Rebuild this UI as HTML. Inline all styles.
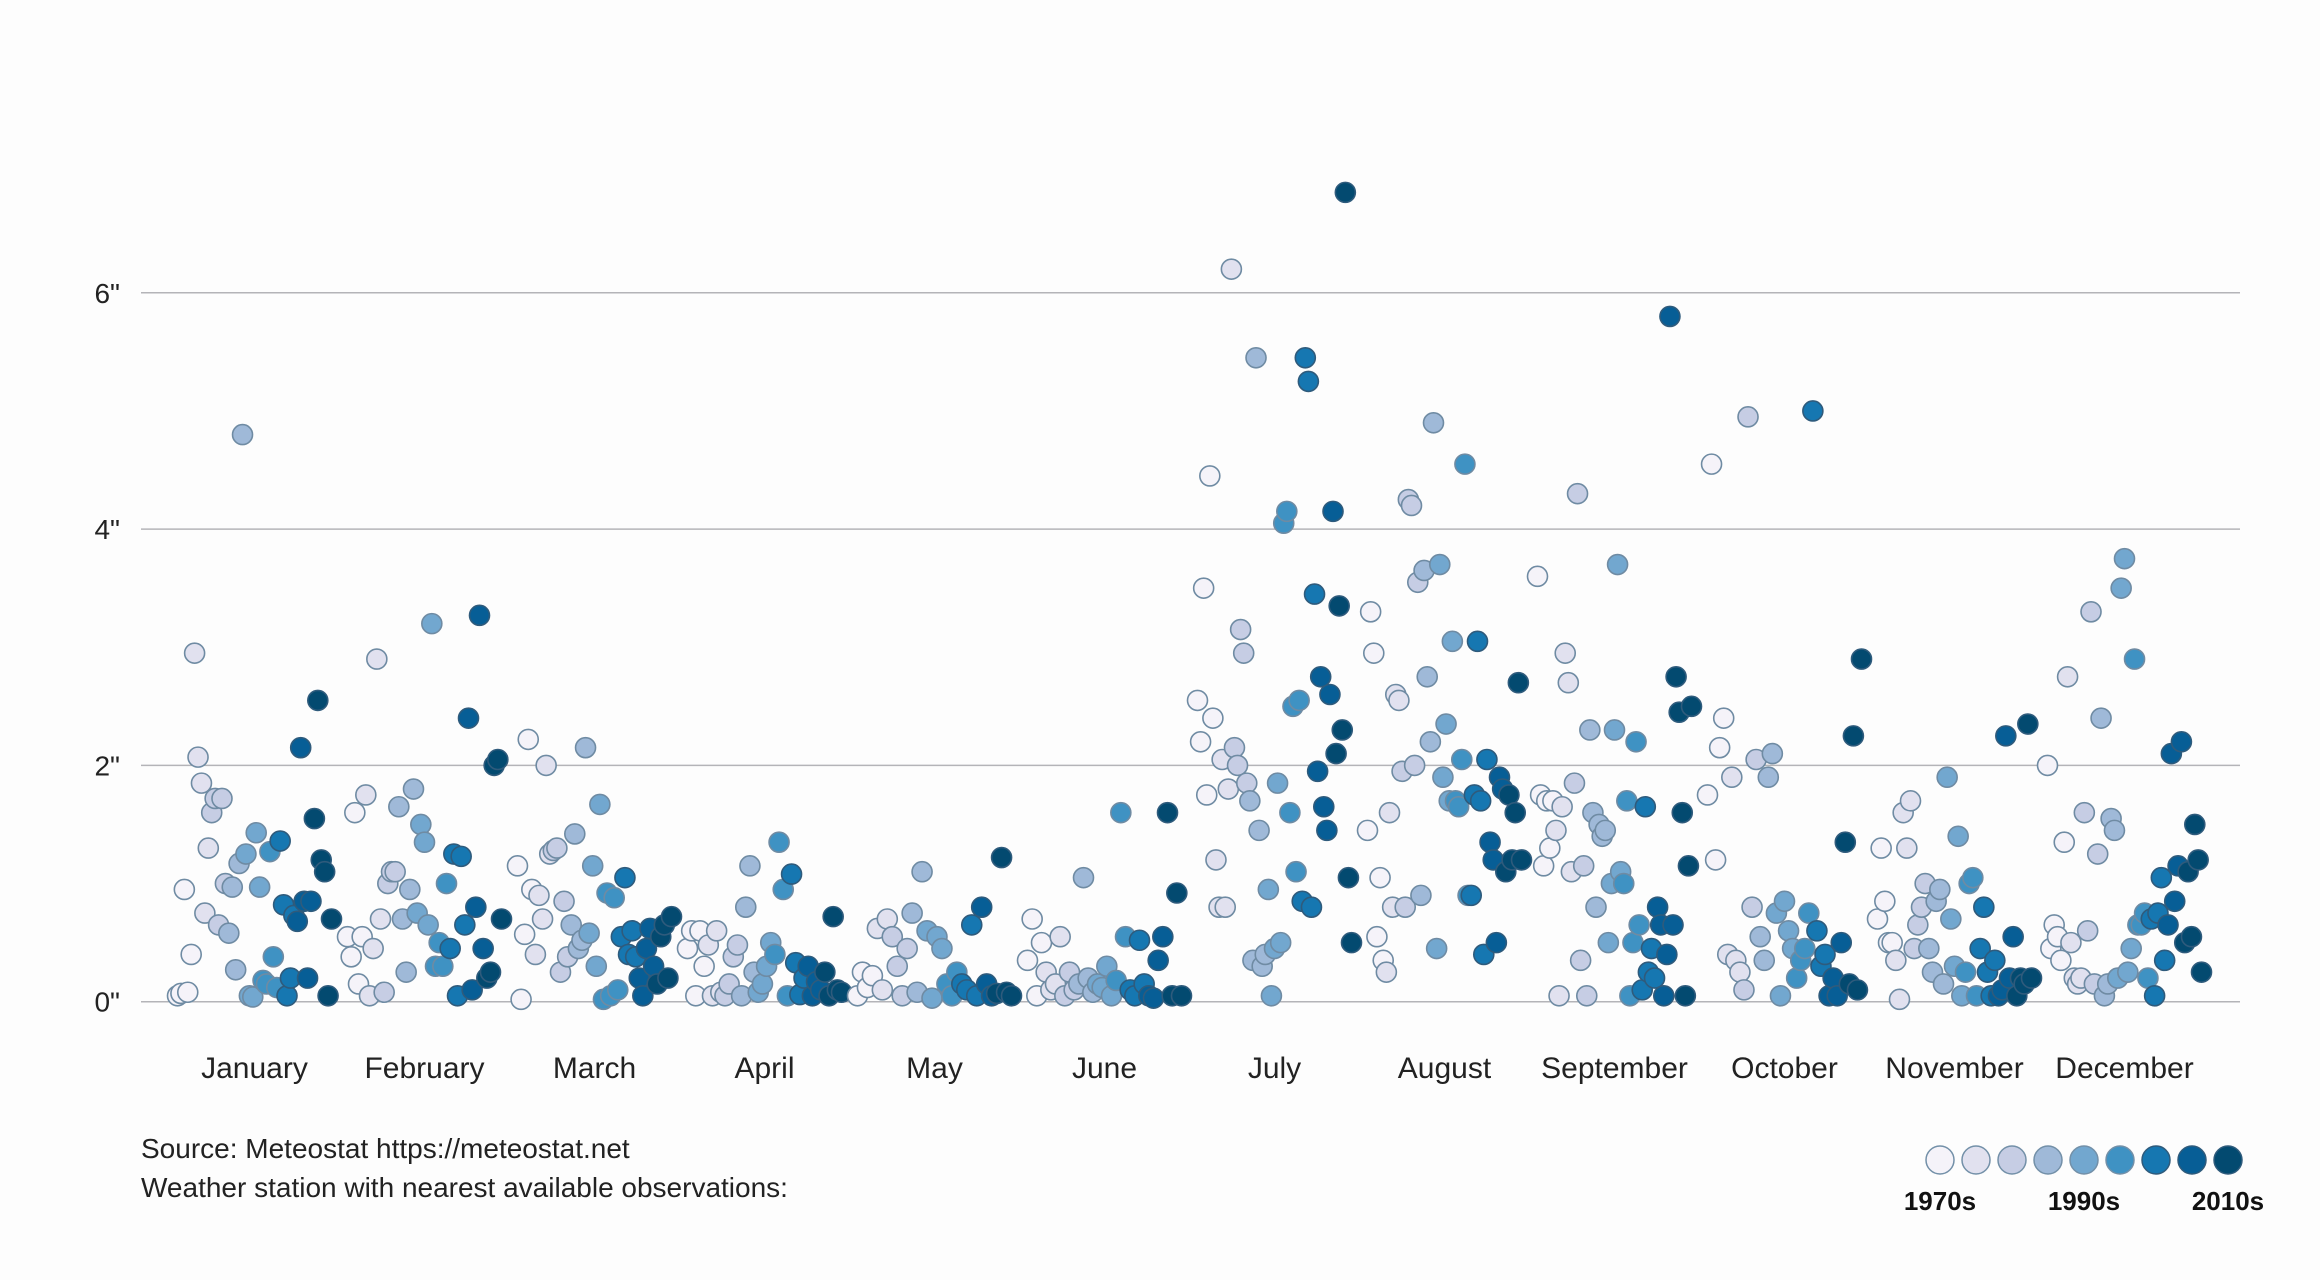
<!DOCTYPE html>
<html><head><meta charset="utf-8"><style>
html,body{margin:0;padding:0;background:#fdfdfd;}
svg{display:block;font-family:"Liberation Sans",sans-serif;}
</style></head><body>
<svg id="chart" width="2320" height="1280" viewBox="0 0 2320 1280">
<rect width="2320" height="1280" fill="#fdfdfd"/>
<g id="grid"></g><g id="ylabels"></g><g id="points"></g><g id="xlabels"></g>
<text x="141" y="1158" font-size="28" fill="#222">Source: Meteostat https://meteostat.net</text>
<text x="141" y="1197" font-size="28" fill="#222">Weather station with nearest available observations:</text>
<g id="legend"></g>
</svg>
<script>
const months=["January","February","March","April","May","June","July","August","September","October","November","December"];
const yTicks=[0,2,4,6];
const yTickLabels=['0"','2"','4"','6"'];
const decadeColors=["#f5f3f9","#e1e1ef","#c6cde4","#9fb9d8","#72a7cf","#3f92c3","#1677b1","#075e96","#034a70"];
const legendLabels=["1970s","1990s","2010s"];
const jan=[0.05,0.07,0.95,0.08,0.4,2.95,2.07,1.85,0.75,1.3,1.6,1.72,0.65,1.72,1.0,0.58,0.97,0.27,1.17,4.8,1.25,0.05,0.04,1.43,0.97,0.18,0.15,1.27,0.38,0.12,1.36,0.82,0.05,0.2,0.73,0.68,2.15,0.85,0.2,0.85,1.55,2.55,1.2,1.1,0.05,0.7];
const feb=[0.55,0.38,1.6,0.15,0.55,1.75,0.05,0.45,2.9,0.7,0.08,1.0,1.1,1.1,1.65,0.7,0.25,0.95,1.8,0.75,1.5,1.35,0.65,3.2,0.3,0.5,0.3,1.0,0.45,1.25,0.05,1.23,0.65,2.4,0.1,0.8,3.27,0.45,0.2,0.25,2.0,2.05,0.7];
const mar=[1.15,0.02,0.57,2.22,0.95,0.4,0.9,0.7,2.0,1.25,1.28,1.3,0.25,0.85,0.38,0.65,1.42,0.45,0.52,2.15,0.58,1.15,0.3,1.67,0.02,0.92,0.05,0.88,0.1,0.55,1.05,0.4,0.6,0.38,0.2,0.05,0.45,0.62,0.3,0.15,0.55,0.65,0.2,0.72];
const apr=[0.45,0.6,0.05,0.6,0.3,0.48,0.05,0.6,0.08,0.05,0.15,0.38,0.48,0.05,0.8,1.15,0.25,0.08,0.15,0.3,0.5,0.4,1.35,0.95,0.05,1.08,0.33,0.06,0.2,0.3,0.05,0.17,0.1,0.25,0.05,0.72,0.1,0.08];
const may=[0.05,0.25,0.12,0.22,0.62,0.1,0.7,0.55,0.3,0.05,0.45,0.75,0.08,1.1,0.6,0.03,0.55,0.45,0.15,0.05,0.25,0.15,0.1,0.65,0.05,0.8,0.15,0.05,0.07,1.22,0.08,0.05];
const jun=[0.35,0.7,0.05,0.5,0.25,0.1,0.15,0.55,0.05,0.25,0.1,0.15,1.05,0.2,0.08,0.15,0.12,0.3,0.05,0.18,1.6,0.55,0.1,0.05,0.52,0.15,0.05,0.03,0.35,0.55,1.6,0.05,0.92,0.05];
const jul=[2.55,2.2,3.5,1.75,4.45,2.4,1.2,0.8,2.05,0.8,1.8,6.2,2.15,2.0,3.15,2.95,1.85,1.7,0.35,5.45,1.45,0.3,0.4,0.95,0.05,0.45,1.85,0.5,4.05,4.15,1.6,2.5,1.1,2.55,0.85,5.45,5.25,0.8,3.45,1.95,2.75,1.65,1.45,2.6,4.15,2.1,3.35,2.3,6.85,1.05,0.5];
const aug=[1.45,3.3,2.95,0.55,1.05,0.35,0.25,1.6,0.8,2.6,2.55,1.95,0.8,4.25,4.2,2.0,3.55,0.9,3.65,2.75,2.2,4.9,0.45,3.7,1.9,2.35,1.7,3.05,1.7,1.65,2.05,4.55,0.9,0.9,1.75,3.05,1.7,0.4,2.05,1.35,1.2,0.5,1.9,1.8,1.1,1.75,1.2,1.6,2.7,1.2];
const sep=[3.6,1.75,1.15,1.7,1.3,1.7,1.45,0.05,1.65,2.95,2.7,1.1,1.85,4.3,0.35,1.15,0.05,2.3,1.6,0.8,1.5,1.4,1.45,0.5,1.0,2.3,3.7,1.1,1.0,1.7,0.05,0.5,2.2,0.65,0.1,1.65,0.25,0.45,0.2,0.8,0.65,0.05,0.4,5.8,0.65,2.75,2.45,1.6,0.05,1.15,2.5];
const oct=[1.75,4.55,1.2,2.15,2.4,0.4,1.9,0.35,0.25,0.1,4.95,0.8,2.05,0.55,0.35,1.9,2.1,0.75,0.05,0.85,0.6,0.45,0.2,0.35,0.45,0.75,5.0,0.6,0.3,0.4,0.05,0.2,0.05,0.5,1.35,0.15,2.25,0.1,2.9];
const nov=[0.7,1.3,0.85,0.5,0.5,0.35,0.02,1.6,1.3,1.7,0.45,0.65,0.8,1.0,0.45,0.25,0.85,0.95,0.15,1.9,0.7,0.3,1.4,0.05,0.25,1.0,1.05,0.05,0.45,0.8,0.25,0.05,0.35,0.05,0.1,2.25,0.2,0.55,0.05,0.2,0.15,2.35,0.2];
const dec=[2.0,0.45,0.65,0.55,0.35,1.35,2.75,0.5,0.2,0.15,0.2,1.6,0.6,3.3,0.15,1.25,2.4,0.05,0.15,1.55,1.45,0.2,3.5,3.75,0.25,0.45,2.9,0.65,0.65,0.75,0.2,0.7,0.05,0.75,1.05,0.35,0.65,2.1,0.85,1.15,2.2,0.5,1.1,0.55,1.5,1.2,0.25];
const series=[jan,feb,mar,apr,may,jun,jul,aug,sep,oct,nov,dec];

const NS="http://www.w3.org/2000/svg";
const x0=254.5,step=170.0,half=77;
function xMonth(m){return x0+m*step;}
function yScale(v){return 1001.7-v*118.15;}
function mk(tag,attrs,parent){const e=document.createElementNS(NS,tag);for(const k in attrs)e.setAttribute(k,attrs[k]);parent.appendChild(e);return e;}
const grid=document.getElementById('grid'),yl=document.getElementById('ylabels'),pts=document.getElementById('points'),xl=document.getElementById('xlabels'),lg=document.getElementById('legend');
yTicks.forEach((t,i)=>{
  const l=mk('line',{x1:141,x2:2240,y1:yScale(t),y2:yScale(t),stroke:"#b4b4b8","stroke-width":1.5},grid);
  
  
  const tx=mk('text',{x:120,y:yScale(t)+10,"text-anchor":"end","font-size":28,fill:"#222"},yl);
  tx.textContent=yTickLabels[i];
  
  
});
months.forEach((m,i)=>{
  const tx=mk('text',{x:xMonth(i),y:1078,"text-anchor":"middle","font-size":30,fill:"#222"},xl);
  tx.textContent=m;
  
  
});
series.forEach((arr,m)=>{
  const n=arr.length;
  arr.forEach((v,i)=>{
    const t=i/(n-1);
    const ci=Math.min(8,Math.floor(t*9));
    const c=mk('circle',{cx:xMonth(m)-half+t*2*half,cy:yScale(v),r:10,fill:decadeColors[ci],stroke:ci<6?"#6f8ba3":"#2f5b7c","stroke-width":1.6},pts);
    
    
  });
});
decadeColors.forEach((c,i)=>{
  const e=mk('circle',{cx:1940+i*36,cy:1160,r:14,fill:c,stroke:i<6?"#7390a8":"#2f5b7c","stroke-width":1.5},lg);
  
  
});
[[0,0],[4,1],[8,2]].forEach(([ci,li])=>{
  const tx=mk('text',{x:1940+ci*36,y:1210,"text-anchor":"middle","font-size":26,"font-weight":"bold",fill:"#111"},lg);
  tx.textContent=legendLabels[li];
  
  
});
</script>
</body></html>
